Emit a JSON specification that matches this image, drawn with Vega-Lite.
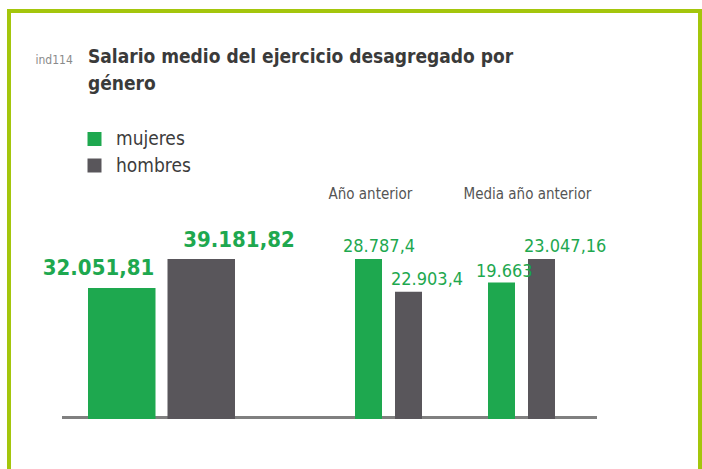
{
  "$schema": "https://vega.github.io/schema/vega-lite/v6.json",
  "width": 691,
  "height": 460,
  "autosize": {"type": "none"},
  "padding": {"left": 9, "top": 11, "right": 2, "bottom": 0},
  "background": "#ffffff",
  "config": {
    "locale": {"number": {"decimal": ",", "thousands": ".", "grouping": [3], "currency": ["", " €"]}},
    "font": "DejaVu Sans Condensed",
    "view": {"stroke": "#a4c60c", "strokeWidth": 4},
    "legend": {
      "orient": "none",
      "legendX": 76,
      "legendY": 118.5,
      "padding": 0,
      "symbolType": "square",
      "symbolSize": 196,
      "symbolStrokeWidth": 0,
      "labelFont": "DejaVu Sans Condensed",
      "labelFontSize": 19,
      "labelColor": "#3c3c3c",
      "labelOffset": 12,
      "rowPadding": 6.5
    }
  },
  "title": {
    "text": ["Salario medio del ejercicio desagregado por", "género"],
    "anchor": "start",
    "frame": "group",
    "dx": 79,
    "offset": -83,
    "font": "DejaVu Sans Condensed",
    "fontSize": 19,
    "fontWeight": "bold",
    "color": "#3a3a3a",
    "lineHeight": 27
  },
  "data": {
    "values": [
      {"grupo": "Ejercicio", "genero": "mujeres", "salario": 32051.81},
      {"grupo": "Ejercicio", "genero": "hombres", "salario": 39181.82},
      {"grupo": "Año anterior", "genero": "mujeres", "salario": 28787.4},
      {"grupo": "Año anterior", "genero": "hombres", "salario": 22903.4},
      {"grupo": "Media año anterior", "genero": "mujeres", "salario": 19663},
      {"grupo": "Media año anterior", "genero": "hombres", "salario": 23047.16}
    ]
  },
  "layer": [
    {
      "transform": [{"aggregate": [{"op": "count", "as": "n"}]}],
      "mark": {"type": "rule", "color": "#808080", "strokeWidth": 3},
      "encoding": {
        "x": {"datum": 0, "type": "quantitative", "scale": {"domain": [0, 1], "range": [53, 588]}, "axis": null},
        "x2": {"datum": 1},
        "y": {
          "datum": 0,
          "type": "quantitative",
          "scale": {"domain": [0, 1], "range": [406.5, 0]},
          "axis": {
            "title": "ind114",
            "titleAngle": 0,
            "titleX": 26,
            "titleY": 52,
            "titleAlign": "left",
            "titleBaseline": "alphabetic",
            "titleFont": "DejaVu Sans Condensed",
            "titleFontSize": 12,
            "titleFontWeight": "normal",
            "titleColor": "#8a8a8a",
            "domain": false,
            "labels": false,
            "ticks": false,
            "grid": false
          }
        }
      }
    },
    {
      "transform": [{"filter": "datum.grupo === 'Ejercicio'"}],
      "encoding": {
        "x": {"field": "genero", "type": "nominal", "scale": {"domain": ["mujeres", "hombres"], "range": [79, 226], "paddingInner": 0.151, "paddingOuter": 0}, "axis": null},
        "y": {"field": "salario", "type": "quantitative", "scale": {"domain": [0, 39181.82], "range": [408, 248], "nice": false, "zero": true}, "axis": null}
      },
      "layer": [
        {
          "mark": {"type": "bar"},
          "encoding": {
            "color": {"field": "genero", "type": "nominal", "scale": {"domain": ["mujeres", "hombres"], "range": ["#1ea84f", "#59565b"]}, "legend": {"title": null}}
          }
        },
        {
          "transform": [{"filter": "datum.genero === 'mujeres'"}],
          "mark": {"type": "text", "align": "right", "baseline": "alphabetic", "dx": 32.5, "dy": -13, "font": "DejaVu Sans Condensed", "fontSize": 22, "fontWeight": "bold", "color": "#1ea84f"},
          "encoding": {"text": {"field": "salario", "type": "quantitative", "format": ",.2~f"}}
        },
        {
          "transform": [{"filter": "datum.genero === 'hombres'"}],
          "mark": {"type": "text", "align": "left", "baseline": "alphabetic", "dx": -18, "dy": -12, "font": "DejaVu Sans Condensed", "fontSize": 22, "fontWeight": "bold", "color": "#1ea84f"},
          "encoding": {"text": {"field": "salario", "type": "quantitative", "format": ",.2~f"}}
        }
      ]
    },
    {
      "transform": [{"filter": "datum.grupo === 'Año anterior'"}],
      "encoding": {
        "x": {
          "field": "genero",
          "type": "nominal",
          "scale": {"domain": ["mujeres", "hombres"], "range": [346, 413], "paddingInner": 0.325, "paddingOuter": 0},
          "axis": {"orient": "top", "title": "Año anterior", "titleX": 319, "titleY": 187, "titleAlign": "left", "titleBaseline": "alphabetic", "titleFont": "DejaVu Sans Condensed", "titleFontSize": 15, "titleFontWeight": "normal", "titleColor": "#555555", "domain": false, "labels": false, "ticks": false, "grid": false}
        },
        "y": {"field": "salario", "type": "quantitative", "scale": {"domain": [0, 28787.4], "range": [408, 248], "nice": false, "zero": true}, "axis": null}
      },
      "layer": [
        {
          "mark": {"type": "bar"},
          "encoding": {
            "color": {"field": "genero", "type": "nominal", "scale": {"domain": ["mujeres", "hombres"], "range": ["#1ea84f", "#59565b"]}, "legend": {"title": null}}
          }
        },
        {
          "transform": [{"filter": "datum.genero === 'mujeres'"}],
          "mark": {"type": "text", "align": "left", "baseline": "alphabetic", "dx": -25.5, "dy": -7, "font": "DejaVu Sans Condensed", "fontSize": 18, "color": "#1ea84f"},
          "encoding": {"text": {"field": "salario", "type": "quantitative", "format": ",.2~f"}}
        },
        {
          "transform": [{"filter": "datum.genero === 'hombres'"}],
          "mark": {"type": "text", "align": "left", "baseline": "alphabetic", "dx": -17.5, "dy": -7, "font": "DejaVu Sans Condensed", "fontSize": 18, "color": "#1ea84f"},
          "encoding": {"text": {"field": "salario", "type": "quantitative", "format": ",.2~f"}}
        }
      ]
    },
    {
      "transform": [{"filter": "datum.grupo === 'Media año anterior'"}],
      "encoding": {
        "x": {
          "field": "genero",
          "type": "nominal",
          "scale": {"domain": ["mujeres", "hombres"], "range": [479, 546], "paddingInner": 0.325, "paddingOuter": 0},
          "axis": {"orient": "top", "title": "Media año anterior", "titleX": 454, "titleY": 187, "titleAlign": "left", "titleBaseline": "alphabetic", "titleFont": "DejaVu Sans Condensed", "titleFontSize": 15, "titleFontWeight": "normal", "titleColor": "#555555", "domain": false, "labels": false, "ticks": false, "grid": false}
        },
        "y": {"field": "salario", "type": "quantitative", "scale": {"domain": [0, 23047.16], "range": [408, 248], "nice": false, "zero": true}, "axis": null}
      },
      "layer": [
        {
          "mark": {"type": "bar"},
          "encoding": {
            "color": {"field": "genero", "type": "nominal", "scale": {"domain": ["mujeres", "hombres"], "range": ["#1ea84f", "#59565b"]}, "legend": {"title": null}}
          }
        },
        {
          "transform": [{"filter": "datum.genero === 'mujeres'"}],
          "mark": {"type": "text", "align": "left", "baseline": "alphabetic", "dx": -25.5, "dy": -5, "font": "DejaVu Sans Condensed", "fontSize": 18, "color": "#1ea84f"},
          "encoding": {"text": {"field": "salario", "type": "quantitative", "format": ",.2~f"}}
        },
        {
          "transform": [{"filter": "datum.genero === 'hombres'"}],
          "mark": {"type": "text", "align": "left", "baseline": "alphabetic", "dx": -17.5, "dy": -7, "font": "DejaVu Sans Condensed", "fontSize": 18, "color": "#1ea84f"},
          "encoding": {"text": {"field": "salario", "type": "quantitative", "format": ",.2~f"}}
        }
      ]
    }
  ],
  "resolve": {
    "scale": {"x": "independent", "y": "independent"},
    "axis": {"x": "independent", "y": "independent"}
  }
}
